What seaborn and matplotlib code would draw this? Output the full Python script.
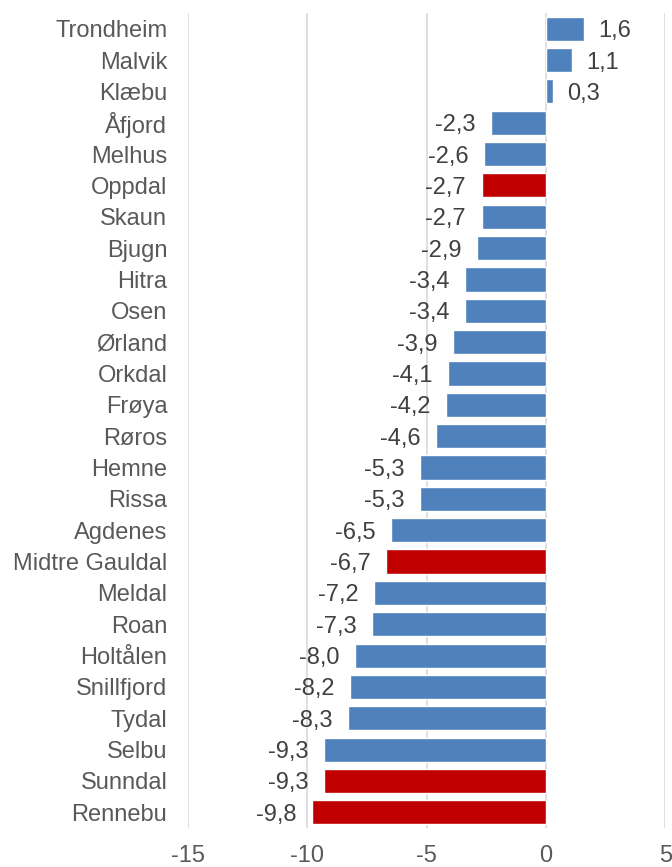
import seaborn as sns
import matplotlib.pyplot as plt
import pandas as pd

# Data
kommuner = ['Trondheim', 'Malvik', 'Klæbu', 'Åfjord', 'Melhus', 'Oppdal', 'Skaun', 'Bjugn',
            'Hitra', 'Osen', 'Ørland', 'Orkdal', 'Frøya', 'Røros', 'Hemne', 'Rissa',
            'Agdenes', 'Midtre Gauldal', 'Meldal', 'Roan', 'Holtålen', 'Snillfjord',
            'Tydal', 'Selbu', 'Sunndal', 'Rennebu']
endring = [1.6, 1.1, 0.3, -2.3, -2.6, -2.7, -2.7, -2.9, -3.4, -3.4, -3.9, -4.1, -4.2, -4.6,
           -5.3, -5.3, -6.5, -6.7, -7.2, -7.3, -8.0, -8.2, -8.3, -9.3, -9.3, -9.8]
uthevet = ['Oppdal', 'Midtre Gauldal', 'Sunndal', 'Rennebu']

df = pd.DataFrame({'Kommune': kommuner, 'Endring': endring})
farger = ['#C00000' if k in uthevet else '#4F81BD' for k in kommuner]

sns.set_style('white')
plt.rcParams['font.family'] = ['Liberation Sans', 'DejaVu Sans']

fig = plt.figure(figsize=(6.72, 8.67), dpi=100)
ax = fig.add_axes([0.28, 0.045, 0.71, 0.94])

ax.set_axisbelow(True)
for x in [-15, -10, -5, 0, 5]:
    ax.axvline(x, color='#D9D9D9', lw=1.2, zorder=0)

sns.barplot(data=df, x='Endring', y='Kommune', hue='Kommune', palette=farger,
            legend=False, width=0.77, saturation=1, ax=ax, zorder=2)

# verdietiketter
for i, v in enumerate(endring):
    etikett = f'{v:.1f}'.replace('.', ',')
    if v >= 0:
        ax.text(v + 0.6, i, etikett, va='center_baseline', ha='left', fontsize=17, color='#404040')
    else:
        ax.text(v - 0.65, i, etikett, va='center_baseline', ha='right', fontsize=17, color='#404040')

ax.set_xlim(-15, 5)
ax.set_ylim(len(kommuner) - 0.5, -0.5)
ax.set_xticks([-15, -10, -5, 0, 5])
ax.set_xticklabels(['-15', '-10', '-5', '0', '5'])
ax.tick_params(axis='x', labelsize=17, labelcolor='#595959', length=0, pad=12)
ax.tick_params(axis='y', labelsize=17, labelcolor='#595959', length=0, pad=15)
ax.set_xlabel('')
ax.set_ylabel('')
for s in ax.spines.values():
    s.set_visible(False)

fig.savefig('out.png', dpi=100)
